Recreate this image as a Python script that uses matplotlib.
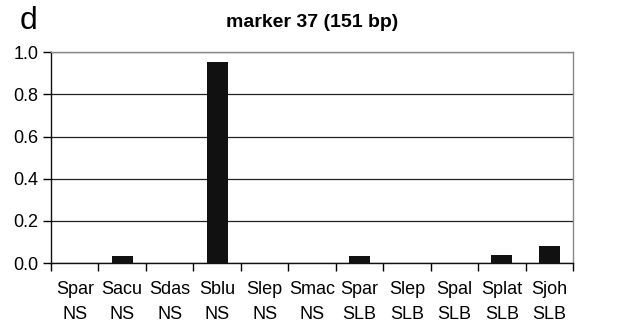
import matplotlib
matplotlib.use("Agg")
import matplotlib.pyplot as plt
import numpy as np

plt.rcParams['font.family'] = ['Liberation Sans', 'DejaVu Sans']

# marker 37 frequencies by population
species = ["Spar", "Sacu", "Sdas", "Sblu", "Slep", "Smac", "Spar", "Slep", "Spal", "Splat", "Sjoh"]
regions = ["NS", "NS", "NS", "NS", "NS", "NS", "SLB", "SLB", "SLB", "SLB", "SLB"]
freq = [0.0, 0.035, 0.0, 0.955, 0.0, 0.0, 0.035, 0.0, 0.0, 0.04, 0.08]

labels = [s + "\n" + r for s, r in zip(species, regions)]
x = np.arange(len(freq))

fig = plt.figure(figsize=(6.43, 3.28), dpi=100)
ax = fig.add_axes([0.0793, 0.198, 0.812, 0.643])

ax.bar(x, freq, width=0.44, color="#111111", zorder=3)

ax.set_xlim(-0.5, len(freq) - 0.5)
ax.set_ylim(0, 1.0)
ax.set_yticks(np.arange(0, 1.01, 0.2))
ax.set_yticklabels(["%.1f" % v for v in np.arange(0, 1.01, 0.2)], fontsize=13)
ax.yaxis.grid(True, color="#222222", linewidth=0.9, zorder=0)

# ticks sit between categories, labels at the centres
ax.set_xticks(np.arange(-0.5, len(freq), 1.0))
ax.set_xticklabels([])
ax.set_xticks(x, minor=True)
ax.set_xticklabels(labels, minor=True, fontsize=13, linespacing=1.6)
ax.tick_params(axis="x", which="minor", length=0, pad=13)
ax.tick_params(axis="x", which="major", length=6, width=1, direction="out")
ax.tick_params(axis="y", length=6, width=1, direction="out", pad=3)

for side in ["left", "bottom"]:
    ax.spines[side].set_color("#111111")
    ax.spines[side].set_linewidth(1.0)
for side in ["top", "right"]:
    ax.spines[side].set_color("#888888")
    ax.spines[side].set_linewidth(1.0)

fig.text(0.486, 0.93, "marker 37 (151 bp)", ha="center", va="center",
         fontsize=14, fontweight="bold")
fig.text(0.045, 0.935, "d", ha="center", va="center", fontsize=23)

fig.savefig("out.png", dpi=100)
